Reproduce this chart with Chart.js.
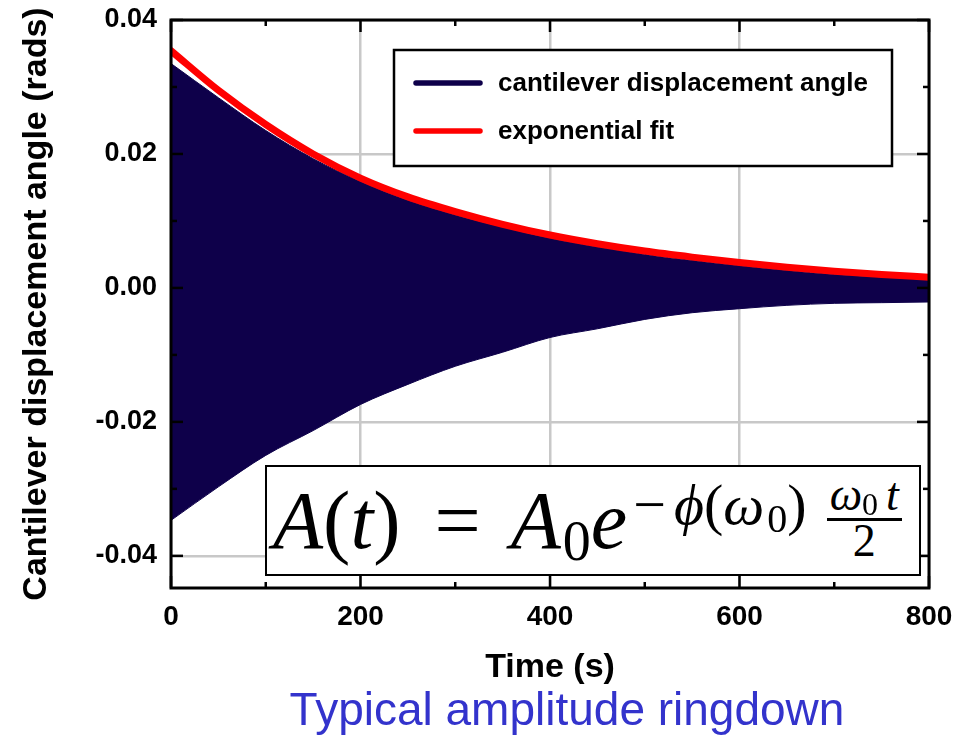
<!DOCTYPE html>
<html>
<head>
<meta charset="utf-8">
<script src="https://cdn.jsdelivr.net/npm/chart.js@4.4.1/dist/chart.umd.min.js"></script>
<style>
  body { margin: 0; background: #fff; }
  #wrap { position: relative; width: 965px; height: 736px; }
  #eq {
    position: absolute; left: 265px; top: 465px; width: 646px; height: 107px;
    border: 2.5px solid #000; background: #fff;
    font-family: "Liberation Serif", "DejaVu Serif", serif;
    font-size: 82px; line-height: 107px; white-space: nowrap; color: #000;
    padding-left: 6px; box-sizing: content-box;
  }
  #eq span { display: inline-block; }
  #eq i { font-style: italic; }
  #eq .eqs { margin: 0 30px 0 34px; }
  #eq .sub { font-size: 56px; position: relative; top: 12px; margin-left: 2px; }
  #eq .sup { font-size: 58px; position: relative; top: -24px; margin-left: 6px; }
  #eq .sup .minus { margin-right: 8px; }
  #eq .sup .s2 { font-size: 40px; position: relative; top: 8px; margin-left: 3px; }
  #eq .frac { font-size: 46px; line-height: 36px; text-align: center;
              vertical-align: top; margin-top: 10px; margin-left: 20px; }
  #eq .frac .num { display: block; border-bottom: 3px solid #000; padding: 0 3px 1px; }
  #eq .frac .num .s3 { font-size: 32px; position: relative; top: 5px; margin-right: 8px; }
  #eq .frac .den { display: block; padding-top: 2px; }
</style>
</head>
<body>
<div id="wrap">
  <canvas id="myChart" width="965" height="736"></canvas>
  <div id="eq"><i>A</i>(<i>t</i>)<span class="eqs">=</span><i>A</i><span class="sub">0</span><i>e</i><span class="sup"><span class="minus">−</span><i>ϕ</i>(<i>ω</i><span class="s2">0</span>)</span><span class="frac"><span class="num"><i>ω</i><span class="s3">0</span><i>t</i></span><span class="den">2</span></span></div>
</div>
<script>
const times = [0, 50, 100, 150, 200, 250, 300, 350, 400, 450, 500, 550, 600, 650, 700, 750, 800];
const fitValues = [0.0354, 0.0295, 0.0244, 0.0200, 0.0164, 0.0136, 0.0114, 0.0095, 0.0079, 0.0066, 0.0055, 0.0046, 0.0038, 0.0031, 0.0025, 0.0020, 0.0016];
const upperEnvelope = [0.0335, 0.0284, 0.0235, 0.0193, 0.0159, 0.0131, 0.0109, 0.0091, 0.0074, 0.0061, 0.0050, 0.0041, 0.0033, 0.0026, 0.0020, 0.0016, 0.0012];
const lowerEnvelope = [-0.0347, -0.0297, -0.0250, -0.0213, -0.0174, -0.0144, -0.0117, -0.0096, -0.0074, -0.0061, -0.0047, -0.0037, -0.0031, -0.0026, -0.0023, -0.0022, -0.0021];
const xTicks = [0, 200, 400, 600, 800];
const yTicks = [-0.04, -0.02, 0.00, 0.02, 0.04];
const xMinorTicks = [100, 300, 500, 700];
const yMinorTicks = [-0.03, -0.01, 0.01, 0.03];
const subtitle = 'Typical amplitude ringdown';

const navy = '#0e004a';
const red = '#ff0000';
const toPoints = vals => times.map((t, i) => ({x: t, y: vals[i]}));

Chart.defaults.font.family = '"Liberation Sans", Arial, sans-serif';
Chart.defaults.color = '#000';

// frame, inward ticks, legend box and the blue caption
const decorations = {
    id: 'decorations',
    afterDatasetsDraw(chart) {
        const {ctx, chartArea: a, scales: {x, y}} = chart;
        ctx.save();
        ctx.strokeStyle = '#000';
        ctx.lineWidth = 2.5;
        const seg = (x1, y1, x2, y2) => { ctx.beginPath(); ctx.moveTo(x1, y1); ctx.lineTo(x2, y2); ctx.stroke(); };
        xTicks.concat(xMinorTicks).forEach(v => {
            const px = x.getPixelForValue(v);
            const len = xTicks.includes(v) ? 12 : 6;
            seg(px, a.bottom, px, a.bottom - len);
            seg(px, a.top, px, a.top + len);
        });
        yTicks.concat(yMinorTicks).forEach(v => {
            const py = y.getPixelForValue(v);
            const len = yTicks.includes(v) ? 12 : 6;
            seg(a.left, py, a.left + len, py);
            seg(a.right, py, a.right - len, py);
        });
        ctx.lineWidth = 3;
        ctx.strokeRect(a.left, a.top, a.right - a.left, a.bottom - a.top);

        // legend
        const items = chart.data.datasets.filter(d => d.label);
        const bx = 394, by = 50, bw = 498, bh = 116;
        ctx.fillStyle = '#fff';
        ctx.fillRect(bx, by, bw, bh);
        ctx.lineWidth = 2.5;
        ctx.strokeRect(bx, by, bw, bh);
        ctx.font = 'bold 26px "Liberation Sans", Arial, sans-serif';
        ctx.textBaseline = 'middle';
        ctx.lineCap = 'round';
        [items.find(d => d.legendOrder === 0), items.find(d => d.legendOrder === 1)].forEach((d, i) => {
            const ly = 83 + i * 48;
            ctx.strokeStyle = d.legendColor;
            ctx.lineWidth = 5.5;
            seg(416, ly, 480, ly);
            ctx.fillStyle = '#000';
            ctx.fillText(d.label, 498, ly + 1);
        });

        // caption under the axis title
        ctx.font = '46px "Liberation Sans", Arial, sans-serif';
        ctx.fillStyle = '#3333cc';
        ctx.textAlign = 'center';
        ctx.fillText(subtitle, 567, 712);
        ctx.restore();
    }
};

new Chart(document.getElementById('myChart'), {
    type: 'line',
    data: {
        datasets: [{
            label: 'exponential fit',
            legendOrder: 1,
            legendColor: red,
            data: toPoints(fitValues),
            borderColor: red,
            borderWidth: 7,
            borderCapStyle: 'round',
            pointRadius: 0,
            fill: false,
            cubicInterpolationMode: 'monotone'
        }, {
            label: 'cantilever displacement angle',
            legendOrder: 0,
            legendColor: navy,
            data: toPoints(upperEnvelope),
            borderColor: navy,
            borderWidth: 1,
            backgroundColor: navy,
            pointRadius: 0,
            fill: '+1',
            cubicInterpolationMode: 'monotone'
        }, {
            data: toPoints(lowerEnvelope),
            borderColor: navy,
            borderWidth: 1,
            pointRadius: 0,
            fill: false,
            cubicInterpolationMode: 'monotone'
        }]
    },
    options: {
        responsive: false,
        animation: false,
        layout: {padding: {left: 0, top: 20, right: 36, bottom: 48}},
        plugins: {
            legend: {display: false},
            tooltip: {enabled: false}
        },
        scales: {
            x: {
                type: 'linear',
                min: 0,
                max: 800,
                afterBuildTicks: s => { s.ticks = xTicks.map(v => ({value: v})); },
                afterFit: s => { s.height = 100; s.paddingLeft = 0; s.paddingRight = 0; },
                ticks: {font: {size: 28, weight: 'bold'}, padding: 12, maxRotation: 0},
                grid: {color: '#c8c8c8', lineWidth: 2.5, drawTicks: false},
                border: {display: false},
                title: {
                    display: true,
                    text: 'Time (s)',
                    font: {size: 34, weight: 'bold'},
                    padding: {top: 0, bottom: 0}
                }
            },
            y: {
                min: -0.0448,
                max: 0.04,
                afterBuildTicks: s => { s.ticks = yTicks.map(v => ({value: v})); },
                afterFit: s => { s.width = 171; s.paddingTop = 0; s.paddingBottom = 0; },
                ticks: {font: {size: 27, weight: 'bold'}, padding: 14, callback: v => v.toFixed(2)},
                grid: {color: '#c8c8c8', lineWidth: 2.5, drawTicks: false},
                border: {display: false},
                title: {
                    display: true,
                    text: 'Cantilever displacement angle (rads)',
                    font: {size: 34, weight: 'bold'},
                    padding: {top: 16, bottom: 0}
                }
            }
        }
    },
    plugins: [decorations]
});
</script>
</body>
</html>
